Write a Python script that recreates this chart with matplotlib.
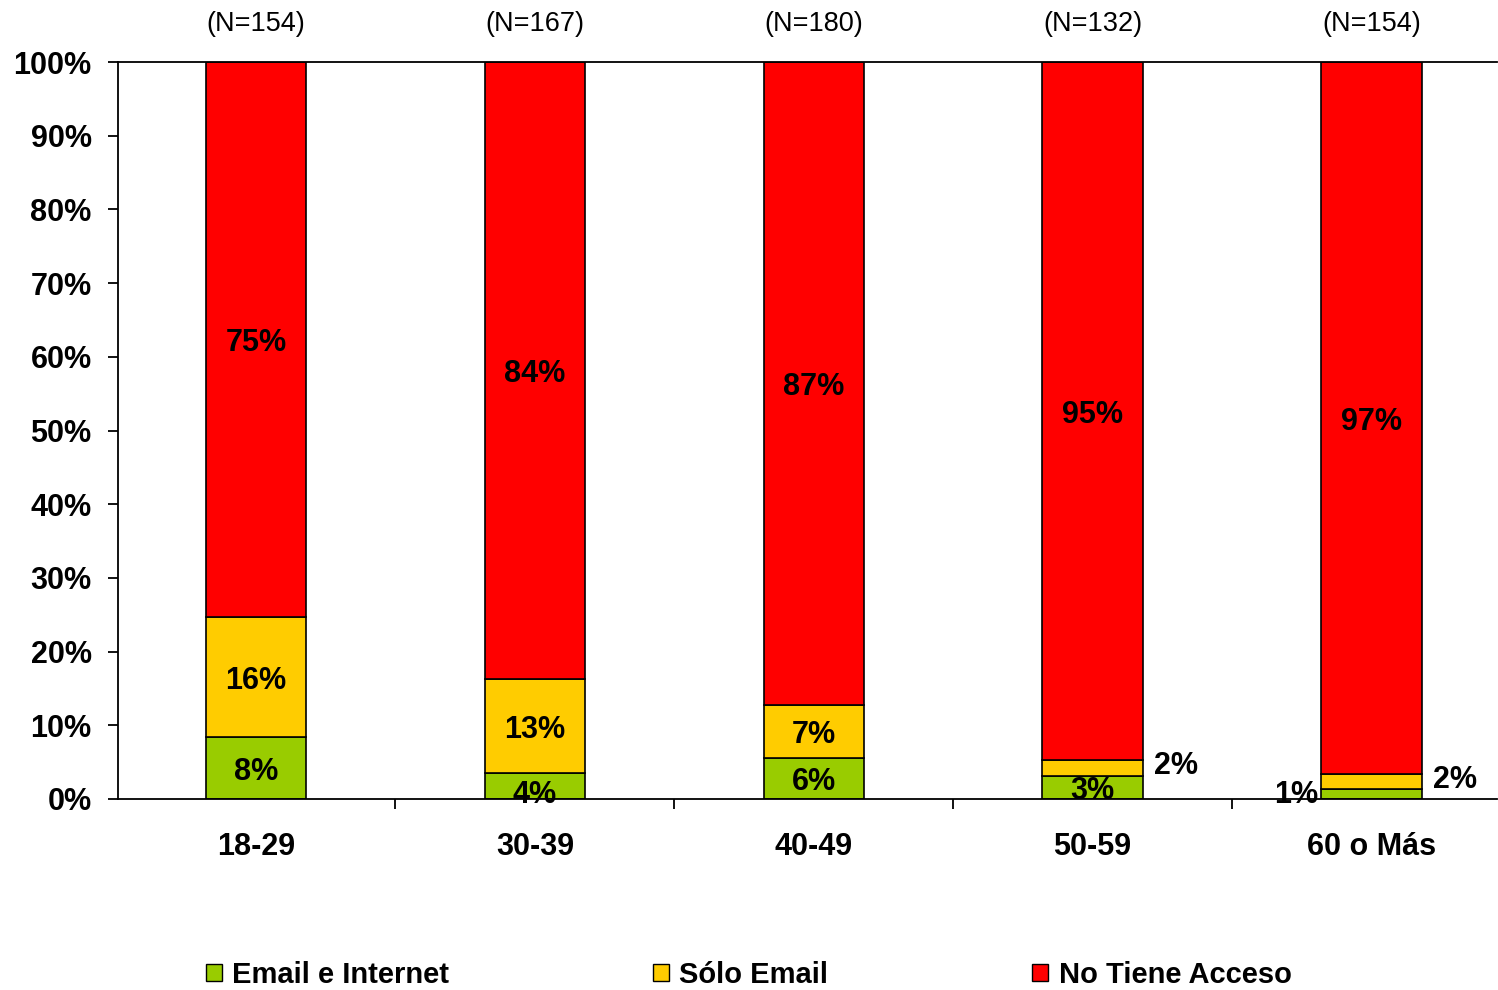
import matplotlib.pyplot as plt
from matplotlib.patches import Patch
from matplotlib.ticker import FixedLocator
import numpy as np

plt.rcParams['font.family'] = ['Liberation Sans', 'DejaVu Sans']

# datos
categorias = ['18-29', '30-39', '40-49', '50-59', '60 o Más']
n_labels = ['(N=154)', '(N=167)', '(N=180)', '(N=132)', '(N=154)']
email_internet = [8.4, 3.5, 5.6, 3.1, 1.4]
solo_email = [16.3, 12.8, 7.2, 2.2, 2.0]
no_acceso = [75.3, 83.7, 87.2, 94.7, 96.6]
txt_email_internet = ['8%', '4%', '6%', '3%', '1%']
txt_solo_email = ['16%', '13%', '7%', '2%', '2%']
txt_no_acceso = ['75%', '84%', '87%', '95%', '97%']

verde = '#99CC00'
amarillo = '#FFCC00'
rojo = '#FF0000'

fig = plt.figure(figsize=(14.98, 9.9), dpi=100)
ax = fig.add_axes([118/1498, 1-799/990, (1497-118)/1498, (799-62)/990])

x = np.arange(len(categorias))
w = 0.36
b1 = np.array(email_internet)
b2 = b1 + np.array(solo_email)

ax.bar(x, email_internet, w, color=verde, edgecolor='black', linewidth=1.2)
ax.bar(x, solo_email, w, bottom=b1, color=amarillo, edgecolor='black', linewidth=1.2)
ax.bar(x, no_acceso, w, bottom=b2, color=rojo, edgecolor='black', linewidth=1.2)

fs = 22
dy = -0.5  # pequeño ajuste vertical de las etiquetas
for i in range(len(x)):
    # rojo
    ax.text(x[i], b2[i] + no_acceso[i]/2 + dy, txt_no_acceso[i], ha='center', va='center',
            fontsize=fs, fontweight='bold')
    # amarillo
    if solo_email[i] > 5:
        ax.text(x[i], b1[i] + solo_email[i]/2 + dy, txt_solo_email[i], ha='center', va='center',
                fontsize=fs, fontweight='bold')
    else:
        ax.text(x[i] + 0.30, b2[i] - 0.3 + dy, txt_solo_email[i], ha='center', va='center',
                fontsize=fs, fontweight='bold')
    # verde
    if email_internet[i] > 2:
        yy = email_internet[i]/2 + dy
        if i == 1:
            yy = 1.1 + dy
        ax.text(x[i], yy, txt_email_internet[i],
                ha='center', va='center', fontsize=fs, fontweight='bold')
    else:
        ax.text(x[i] - 0.27, 1.1 + dy, txt_email_internet[i], ha='center', va='center',
                fontsize=fs, fontweight='bold')

# N arriba
for i in range(len(x)):
    ax.text(x[i], 1.051, n_labels[i], ha='center', va='center', fontsize=19.5,
            transform=ax.get_xaxis_transform())

ax.set_xlim(-0.495, 4.45)
ax.set_ylim(0, 100)
ax.set_yticks(np.arange(0, 101, 10))
ax.set_yticklabels([str(v) + '%' for v in range(0, 101, 10)], fontsize=fs, fontweight='bold')
ax.set_xticks(x)
ax.set_xticklabels(categorias, fontsize=fs, fontweight='bold')
ax.tick_params(axis='x', which='major', length=0, pad=23.5)
ax.xaxis.set_minor_locator(FixedLocator([-0.5, 0.5, 1.5, 2.5, 3.5]))
ax.tick_params(axis='x', which='minor', length=7, width=1.3, direction='out')
ax.tick_params(axis='y', length=7, width=1.3, pad=12)
ax.spines['right'].set_visible(False)
for s in ['left', 'bottom', 'top']:
    ax.spines[s].set_linewidth(1.3)

handles = [Patch(facecolor=verde, edgecolor='black'),
           Patch(facecolor=amarillo, edgecolor='black'),
           Patch(facecolor=rojo, edgecolor='black')]
fig.legend(handles, ['Email e Internet', 'Sólo Email', 'No Tiene Acceso'], ncol=3,
           loc='center', bbox_to_anchor=(0.4997, 0.0155), frameon=False,
           prop={'size': 21, 'weight': 'bold'}, handlelength=0.55, handleheight=0.55,
           handletextpad=0.35, columnspacing=7.0, borderpad=0.1)

plt.savefig('out.png', dpi=100)
